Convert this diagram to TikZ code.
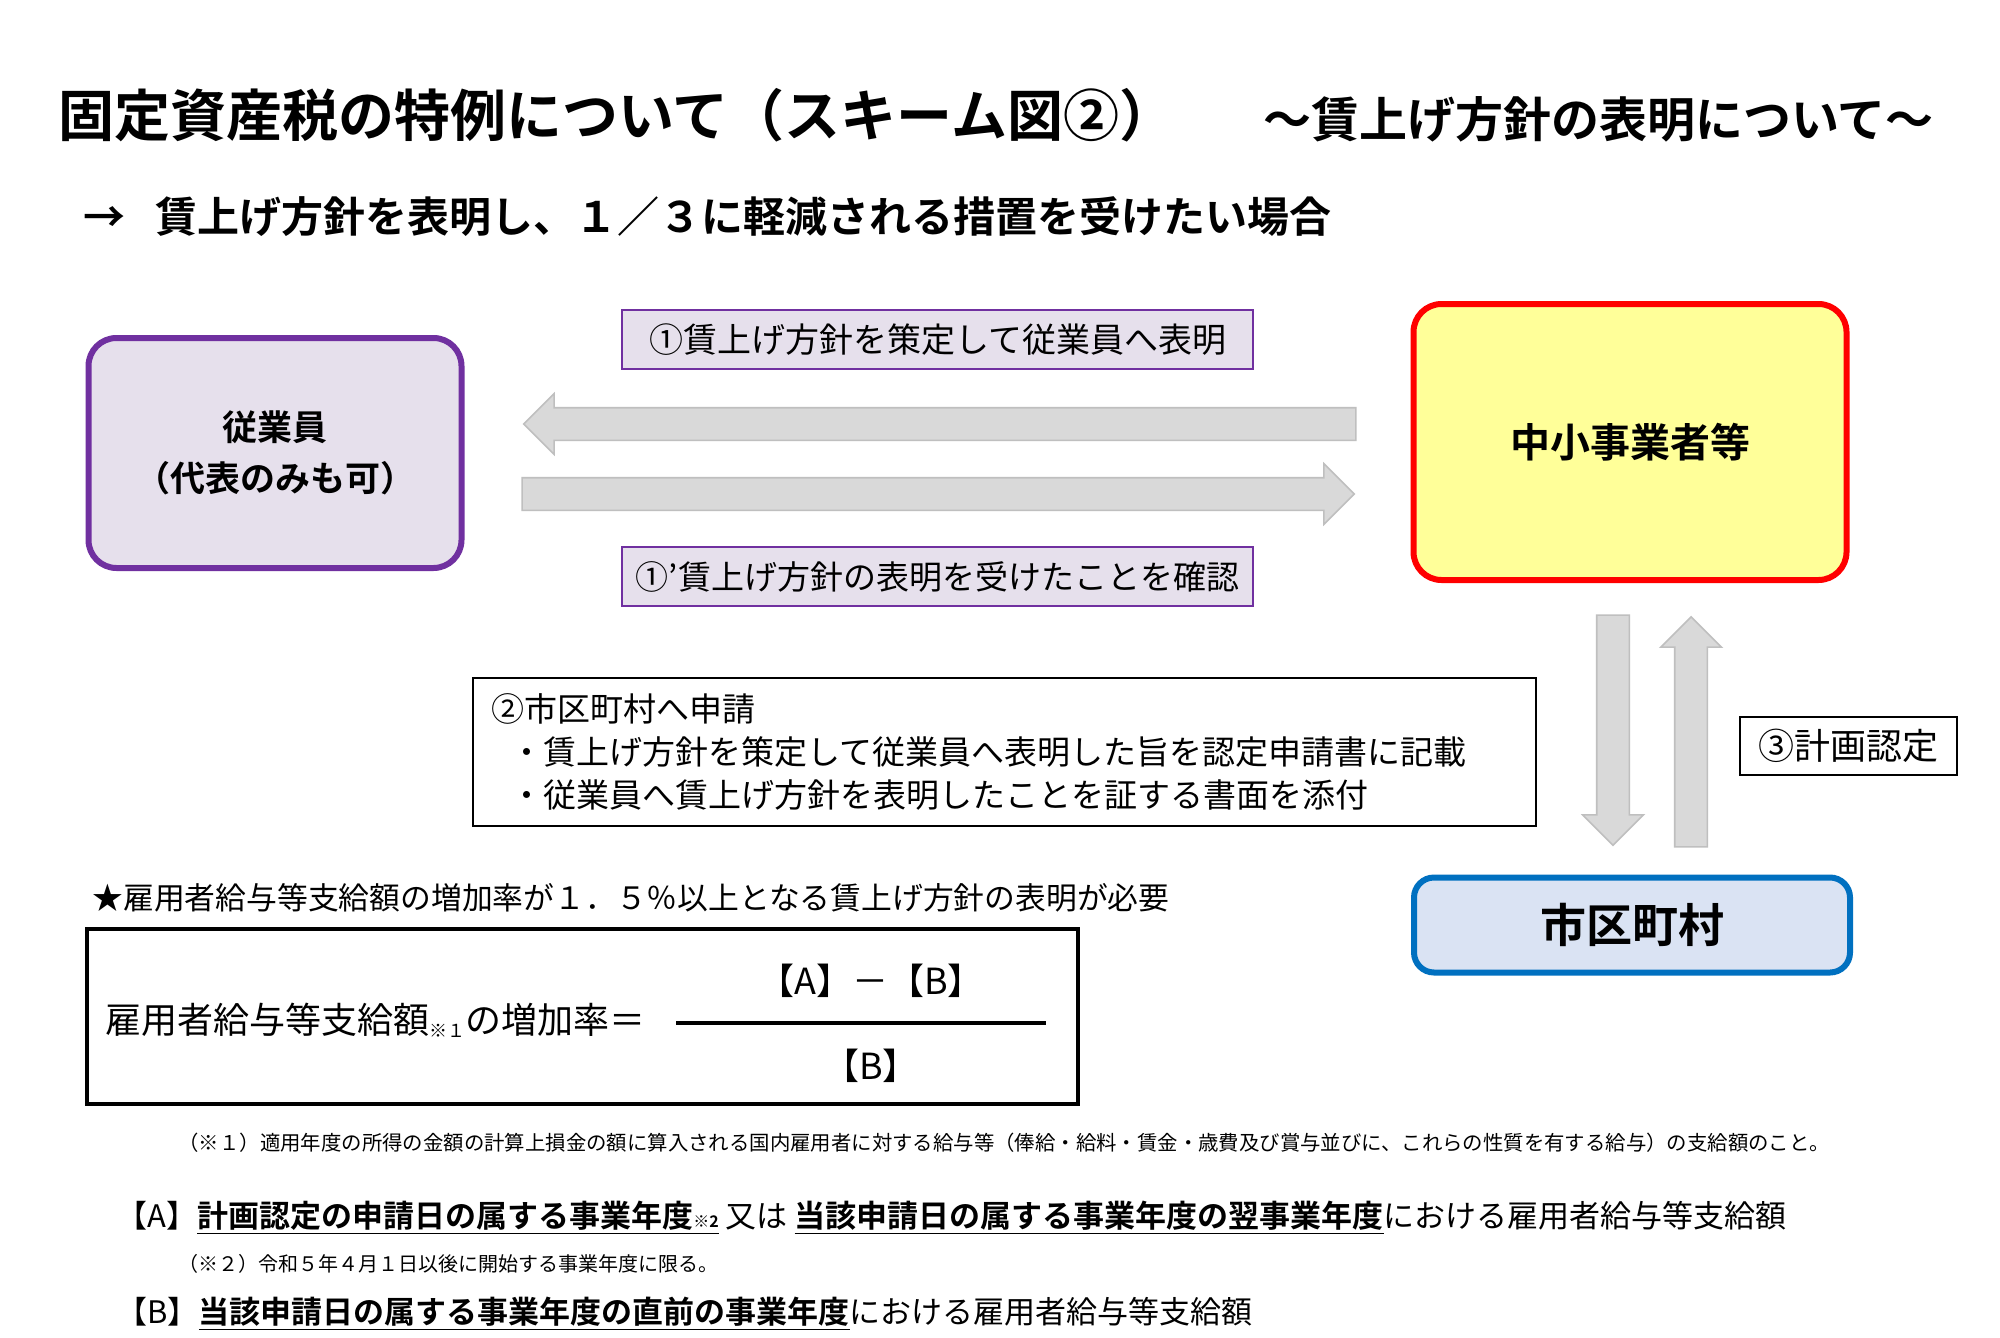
\documentclass[tikz,border=0pt]{standalone}
\usepackage{fontspec}
\setmainfont{Noto Sans CJK JP}[BoldFont={Noto Sans CJK JP Bold}]
\usetikzlibrary{shapes.arrows}

\definecolor{kumurasaki}{HTML}{7030A0}
\definecolor{usumurasaki}{HTML}{E6E0EC}
\definecolor{aka}{HTML}{FF0000}
\definecolor{kiiro}{HTML}{FFFF99}
\definecolor{ao}{HTML}{0070C0}
\definecolor{usuao}{HTML}{DAE3F3}
\definecolor{hai}{HTML}{D9D9D9}
\definecolor{haisen}{HTML}{BFBFBF}

\begin{document}
\begin{tikzpicture}[x=0.5pt, y=-0.5pt,
    shutai/.style ={rounded corners=14pt, line width=3pt, align=center},
    setsumei/.style ={draw=kumurasaki, fill=usumurasaki, line width=1pt, minimum width=315.5pt, minimum height=29.5pt, inner sep=0pt},
    waku/.style ={draw=black, line width=1pt, inner sep=0pt},
    yajirushi/.style ={single arrow, fill=hai, draw=haisen, line width=0.8pt, minimum width=30pt, single arrow head extend=7pt, single arrow tip angle=90, inner sep=7.75pt},
    bun/.style ={anchor=west, inner sep=0pt}]
   \fill[white] (0,0) rectangle (2000,1337);
   \useasboundingbox (0,0) rectangle (2000,1337);
   % title
   \node[bun, font=\bfseries\fontsize{28}{34}\selectfont] (midashi) at (58,115) {固定資産税の特例について（スキーム図②）};
   \node[bun, font=\bfseries\fontsize{24}{30}\selectfont] (fukudai) at (1263,119) {～賃上げ方針の表明について～};
   \node[bun, font=\bfseries\fontsize{21}{26}\selectfont] (shushi) at (83,217) {→\hspace{15pt}賃上げ方針を表明し、１／３に軽減される措置を受けたい場合};
   % parties
   \node[shutai, draw=kumurasaki, fill=usumurasaki, minimum width=186.5pt, minimum height=115pt, font=\bfseries\fontsize{17.5}{25.5}\selectfont] (jugyoin) at (275,453) {従業員\\（代表のみも可）};
   \node[shutai, draw=aka, fill=kiiro, minimum width=216.5pt, minimum height=138pt, font=\bfseries\fontsize{20}{24}\selectfont] (jigyosha) at (1630,442) {中小事業者等};
   \node[shutai, draw=ao, fill=usuao, minimum width=218pt, minimum height=47.5pt, rounded corners=10pt, font=\bfseries\fontsize{23}{26}\selectfont] (shikuchoson) at (1632,925) {市区町村};
   % arrows
   \node[yajirushi, minimum height=416pt, rotate=180] (hyomei) at (948,424) {};
   \node[yajirushi, minimum height=416pt] (kakunin) at (930,494) {};
   \node[yajirushi, minimum height=115pt, rotate=-90] (shinsei) at (1613,722) {};
   \node[yajirushi, minimum height=115pt, rotate=90] (nintei) at (1691,740) {};
   % labels
   \node[setsumei, font=\fontsize{17}{20}\selectfont] (hyomei-txt) at (937.5,339.5) {①賃上げ方針を策定して従業員へ表明};
   \node[setsumei, font=\fontsize{16.5}{20}\selectfont] (kakunin-txt) at (937.5,576.5) {①’賃上げ方針の表明を受けたことを確認};
   \node[waku, minimum width=531.5pt, minimum height=74pt, text width=513pt, align=left, inner xsep=9pt, font=\fontsize{16.5}{21.5}\selectfont] (shinsei-txt) at (1004.5,752) {②市区町村へ申請\\\hspace*{9.5pt}・賃上げ方針を策定して従業員へ表明した旨を認定申請書に記載\\\hspace*{9.5pt}・従業員へ賃上げ方針を表明したことを証する書面を添付};
   \node[waku, minimum width=108.5pt, minimum height=29pt, font=\fontsize{18}{20}\selectfont] (nintei-txt) at (1848.5,746) {③計画認定};
   % formula
   \node[bun, font=\fontsize{15.4}{18}\selectfont] (hitsuyo) at (92,898) {★雇用者給与等支給額の増加率が１．５％以上となる賃上げ方針の表明が必要};
   \node[waku, line width=2pt, minimum width=495.5pt, minimum height=87.5pt] (shiki) at (582.5,1016.5) {};
   \node[bun, font=\fontsize{18}{20}\selectfont] (sahen) at (105,1020) {雇用者給与等支給額\raisebox{-2pt}{\fontsize{9}{10}\selectfont ※１}の増加率＝};
   \coordinate (bunsu-l) at (676,1023);
   \coordinate (bunsu-r) at (1046,1023);
   \draw[line width=2pt] (bunsu-l) -- (bunsu-r);
   \node[font=\fontsize{18}{20}\selectfont] (bunshi) at (871,981) {【A】－【B】};
   \node[font=\fontsize{18}{20}\selectfont] (bunbo) at (871,1066) {【B】};
   % notes
   \node[bun, font=\fontsize{10.2}{12}\selectfont] (chu1) at (178,1143) {（※１）適用年度の所得の金額の計算上損金の額に算入される国内雇用者に対する給与等（俸給・給料・賃金・歳費及び賞与並びに、これらの性質を有する給与）の支給額のこと。};
   \node[bun, font=\fontsize{15.5}{18}\selectfont] (teigiA) at (116,1218) {【A】\underline{\bfseries 計画認定の申請日の属する事業年度{\fontsize{8}{9}\selectfont ※2}} 又は \underline{\bfseries 当該申請日の属する事業年度の翌事業年度}における雇用者給与等支給額};
   \node[bun, font=\fontsize{10}{12}\selectfont] (chu2) at (178,1264) {（※２）令和５年４月１日以後に開始する事業年度に限る。};
   \node[bun, font=\fontsize{15.5}{18}\selectfont] (teigiB) at (116,1314) {【B】\underline{\bfseries 当該申請日の属する事業年度の直前の事業年度}における雇用者給与等支給額};
 \end{tikzpicture}
\end{document}
